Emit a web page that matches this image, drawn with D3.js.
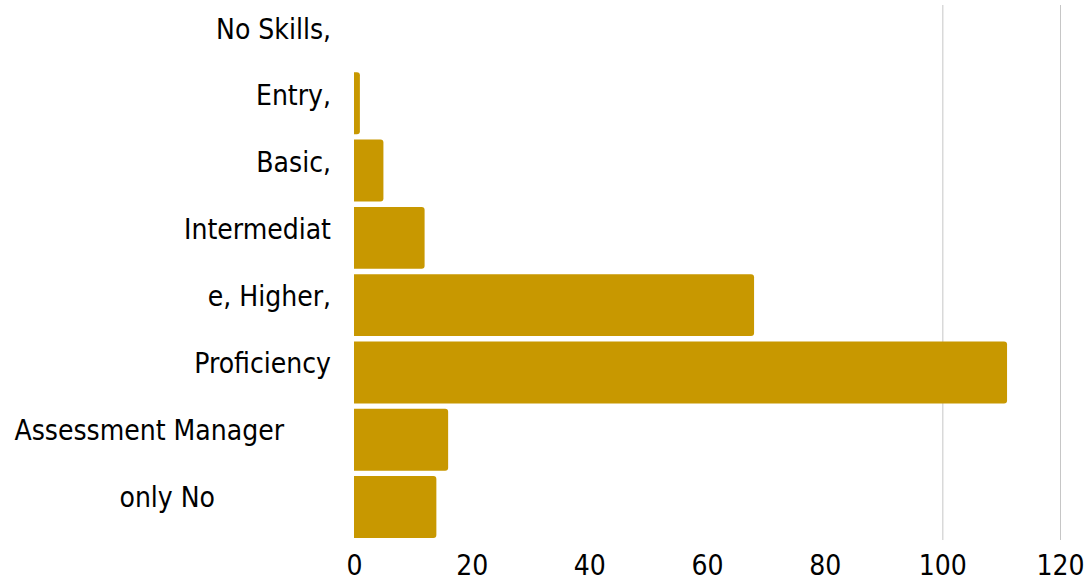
<!DOCTYPE html>
<html>
<head>
<meta charset="utf-8">
<script src="https://cdn.jsdelivr.net/npm/d3@7"></script>
<style>
  body { margin: 0; background: #fff; }
  svg { display: block; }
  text { font-family: "DejaVu Sans Condensed", "DejaVu Sans", sans-serif; font-stretch: condensed; font-size: 28px; fill: #000; }
</style>
</head>
<body>
<svg id="chart" width="1091" height="580"></svg>
<script>
  // chart data
  var categories = ["No Skills,", "Entry,", "Basic,", "Intermediat", "e, Higher,", "Proficiency", "Assessment Manager", "only No"];
  var values = [0, 1, 5, 12, 68, 111, 16, 14];
  var xTicks = [0, 20, 40, 60, 80, 100, 120];
  var gridTicks = [100, 120];

  var svg = d3.select("#chart");

  var x = d3.scaleLinear().domain([0, 120]).range([354, 1060]);
  var y = d3.scaleBand().domain(categories).range([5, 538]).paddingInner(0.08).paddingOuter(0);

  // grid lines (only the ones right of the bars show)
  svg.append("g").selectAll("line").data(gridTicks).enter()
    .append("line")
    .attr("x1", function (d) { return x(d) + 0.5; })
    .attr("x2", function (d) { return x(d) + 0.5; })
    .attr("y1", 5).attr("y2", 540)
    .attr("stroke", "#c6c6c6").attr("stroke-width", 1);

  // bars, square on the left, rounded on the right
  var r = 3;
  svg.append("g").selectAll("path").data(categories).enter()
    .append("path")
    .attr("fill", "#c89800")
    .attr("d", function (d, i) {
      var x0 = x(0), x1 = x(values[i]), y0 = y(d), h = y.bandwidth();
      if (x1 - x0 <= 0) return "";
      var rr = Math.min(r, x1 - x0);
      return "M" + x0 + "," + y0 + "H" + (x1 - rr) + "Q" + x1 + "," + y0 + " " + x1 + "," + (y0 + rr) +
        "V" + (y0 + h - rr) + "Q" + x1 + "," + (y0 + h) + " " + (x1 - rr) + "," + (y0 + h) + "H" + x0 + "Z";
    });

  // category labels (last two lines sit further left, as in the source;
  // the label lines are spaced a touch tighter than the bars)
  var labelEnd = function (i) { return i === 6 ? 284 : i === 7 ? 215 : 331; };
  var labelShift = function (i) { return -7.5 - 0.4 * i; };
  svg.append("g").selectAll("text").data(categories).enter()
    .append("text")
    .attr("text-anchor", "end")
    .attr("x", function (d, i) { return labelEnd(i); })
    .attr("y", function (d, i) { return y(d) + y.bandwidth() / 2 + labelShift(i); })
    .attr("dy", "0.36em")
    .text(function (d) { return d; });

  // x axis
  var xAxis = svg.append("g")
    .attr("transform", "translate(0,552)")
    .call(d3.axisBottom(x).tickValues(xTicks).tickSize(0).tickPadding(0));
  xAxis.select(".domain").remove();
  xAxis.selectAll("text")
    .attr("dy", "0.82em")
    .style("font-family", "\"DejaVu Sans Condensed\", \"DejaVu Sans\", sans-serif")
    .style("font-stretch", "condensed")
    .style("font-size", "28px")
    .attr("fill", "#000");
</script>
</body>
</html>
